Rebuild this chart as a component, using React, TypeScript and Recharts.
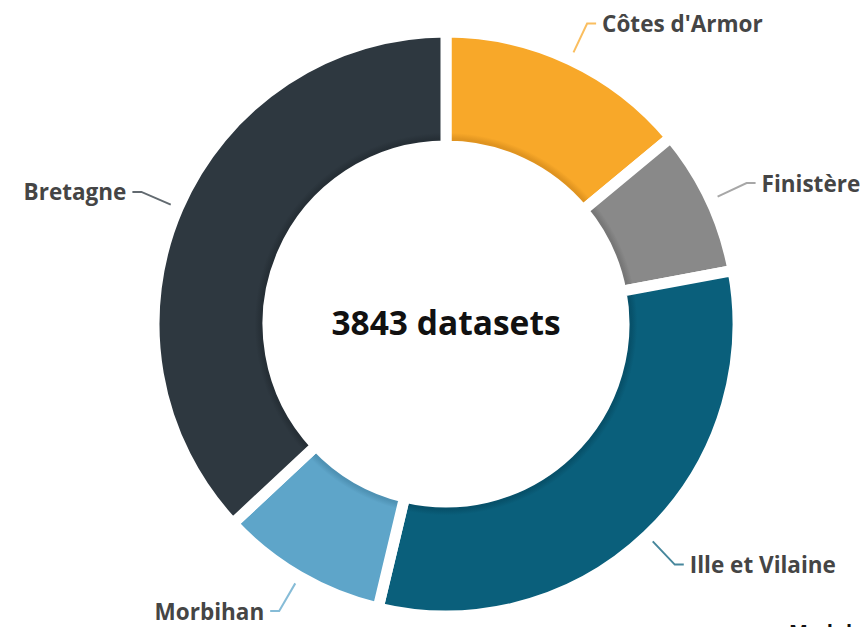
import React from "react";
import { PieChart, Pie, Cell } from "recharts";

// departments, clockwise from 12 o'clock
const departments = ["Côtes d'Armor", "Finistère", "Ille et Vilaine", "Morbihan", "Bretagne"];
const datasetCounts = [537, 311, 1217, 357, 1421];
const sliceColors = ["#f8a829", "#898989", "#0a5f7b", "#5ea5c9", "#2e3840"];
const innerColors = ["#e09420", "#777777", "#07516a", "#4f92b4", "#262f36"];
const centerLabel = "3843 datasets";

const data = departments.map((name, i) => ({ name, value: datasetCounts[i] }));
const ring = [{ name: "ring", value: 1 }];

const CX = 446;
const CY = 324;
const RADIAN = Math.PI / 180;
const FONT = "'Open Sans', 'Noto Sans', sans-serif";

// elbow label: radial segment, short horizontal tick, then the text
// eslint-disable-next-line @typescript-eslint/no-explicit-any
const renderLabel = (props: any) => {
  const { cx, cy, midAngle, index } = props;
  const cos = Math.cos(-midAngle * RADIAN);
  const sin = Math.sin(-midAngle * RADIAN);
  const x1 = cx + 300 * cos;
  const y1 = cy + 300 * sin;
  const x2 = cx + 332 * cos;
  const y2 = cy + 332 * sin;
  const right = cos >= 0;
  const x3 = x2 + (right ? 9 : -9);
  const tx = x3 + (right ? 6 : -6);
  return (
    <g>
      <path
        d={`M${x1},${y1}L${x2},${y2}L${x3},${y2}`}
        stroke={sliceColors[index]}
        strokeOpacity={0.75}
        strokeWidth={2}
        fill="none"
      />
      <text
        x={tx}
        y={y2}
        textAnchor={right ? "start" : "end"}
        dominantBaseline="central"
        fill="#454545"
        fontFamily={FONT}
        fontWeight={700}
        fontSize={22.5}
      >
        {departments[index]}
      </text>
    </g>
  );
};

export default function App() {
  return (
    <div
      style={{
        position: "absolute",
        left: 0,
        top: 0,
        width: 866,
        height: 627,
        overflow: "hidden",
        background: "#fff",
      }}
    >
      <PieChart width={866} height={627} margin={{ top: 0, right: 0, bottom: 0, left: 0 }}>
        <defs>
          {sliceColors.map((c, i) => (
            <radialGradient
              key={i}
              id={`slice-${i}`}
              gradientUnits="userSpaceOnUse"
              cx={CX}
              cy={CY}
              r={292}
            >
              <stop offset="0%" stopColor={innerColors[i]} />
              <stop offset="63.5%" stopColor={innerColors[i]} />
              <stop offset="65.5%" stopColor={c} />
              <stop offset="100%" stopColor={c} />
            </radialGradient>
          ))}
        </defs>
        {/* soft grey ring behind the inner edge */}
        <Pie
          data={ring}
          dataKey="value"
          cx={CX}
          cy={CY}
          innerRadius={176}
          outerRadius={188}
          startAngle={90}
          endAngle={-270}
          stroke="none"
          fill="#e7e7e7"
          isAnimationActive={false}
        />
        <Pie
          data={data}
          dataKey="value"
          nameKey="name"
          cx={CX}
          cy={CY}
          innerRadius={178}
          outerRadius={292}
          startAngle={90}
          endAngle={-270}
          stroke="#fff"
          strokeWidth={11}
          label={renderLabel}
          labelLine={false}
          isAnimationActive={false}
        >
          {data.map((d, i) => (
            <Cell key={d.name} fill={`url(#slice-${i})`} stroke="#fff" strokeWidth={11} />
          ))}
        </Pie>
        <text
          x={CX}
          y={CY - 2}
          textAnchor="middle"
          dominantBaseline="central"
          fill="#111"
          fontFamily={FONT}
          fontWeight={700}
          fontSize={33.5}
        >
          {centerLabel}
        </text>
      </PieChart>
      <div
        style={{
          position: "absolute",
          left: 789,
          top: 618,
          fontFamily: FONT,
          fontWeight: 700,
          fontSize: 20,
          color: "#111",
          whiteSpace: "nowrap",
        }}
      >
        Modules
      </div>
    </div>
  );
}
